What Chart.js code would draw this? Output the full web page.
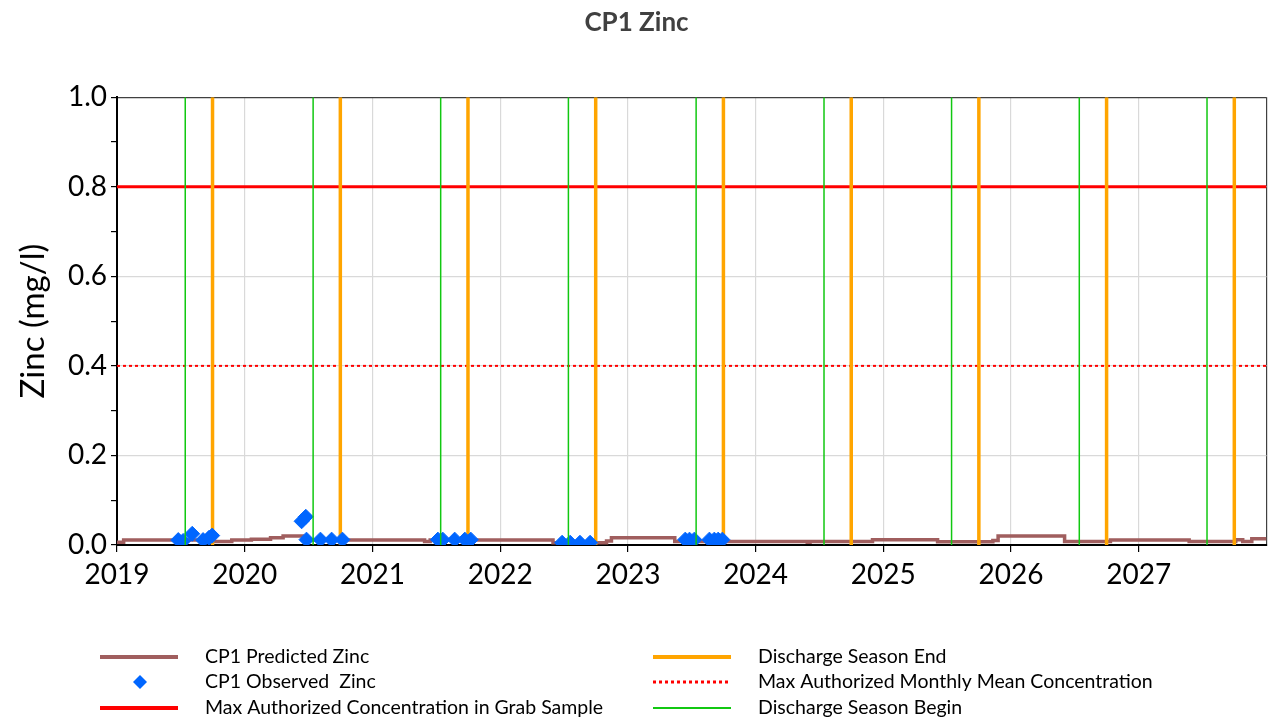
<!DOCTYPE html>
<html>
<head>
<meta charset="utf-8">
<script src="https://cdn.jsdelivr.net/npm/chart.js@4"></script>
<style>
  body { margin: 0; background: #fff; }
  #wrap { width: 1275px; height: 721px; }
</style>
</head>
<body>
<div id="wrap"><canvas id="zincChart" width="1275" height="721"></canvas></div>
<script>
// Predicted zinc (step series, value holds until next date)
const predictedDates = [
  "2019-01-01", "2019-01-20", "2019-10-01", "2019-11-25", "2020-01-20", "2020-03-15",
  "2020-04-20", "2020-06-15", "2021-05-30", "2021-06-15", "2022-06-01", "2022-11-01",
  "2022-11-15", "2023-05-15", "2024-05-28", "2024-06-05", "2024-12-01", "2025-06-05",
  "2025-11-10", "2025-11-25", "2026-06-03", "2026-10-12", "2027-05-25", "2027-10-05",
  "2027-10-25", "2027-11-20", "2028-01-01"
];
const predictedValues = [
  0.006, 0.011, 0.008, 0.011, 0.013, 0.016,
  0.020, 0.011, 0.008, 0.011, 0.005, 0.009,
  0.016, 0.008, 0.006, 0.008, 0.012, 0.007,
  0.010, 0.020, 0.008, 0.011, 0.008, 0.012,
  0.008, 0.014, 0.014
];

// Observed zinc samples
const observedDates = [
  "2019-06-25", "2019-07-09", "2019-08-04", "2019-09-04", "2019-09-21", "2019-09-30",
  "2020-06-12", "2020-06-24", "2020-06-26", "2020-08-05", "2020-09-06", "2020-10-07",
  "2021-07-07", "2021-07-21", "2021-08-24", "2021-09-22", "2021-10-09",
  "2022-06-27", "2022-07-20", "2022-08-17", "2022-09-15",
  "2023-06-14", "2023-06-26", "2023-07-10", "2023-08-22", "2023-09-05", "2023-09-16", "2023-09-28"
];
const observedValues = [
  0.011, 0.009, 0.025, 0.011, 0.016, 0.021,
  0.053, 0.063, 0.012, 0.012, 0.012, 0.012,
  0.012, 0.012, 0.012, 0.012, 0.012,
  0.005, 0.005, 0.005, 0.005,
  0.012, 0.012, 0.012, 0.012, 0.012, 0.012, 0.012
];

const seasonBegin = ["2019-07-15", "2020-07-15", "2021-07-15", "2022-07-15", "2023-07-15",
  "2024-07-15", "2025-07-15", "2026-07-15", "2027-07-15"];
const seasonEnd = ["2019-10-01", "2020-10-01", "2021-10-01", "2022-10-01", "2023-10-01",
  "2024-10-01", "2025-10-01", "2026-10-01", "2027-10-01"];

const grabLimit = 0.8;
const monthlyMeanLimit = 0.4;
const yearTicks = [2019, 2020, 2021, 2022, 2023, 2024, 2025, 2026, 2027];

const FONT = "Lato, 'Open Sans', sans-serif";

// date string -> decimal year
function toYear(s) {
  const d = new Date(s + "T00:00:00Z");
  const y = d.getUTCFullYear();
  const start = Date.UTC(y, 0, 1);
  const end = Date.UTC(y + 1, 0, 1);
  return y + (d.getTime() - start) / (end - start);
}

// vertical lines from 0 to 1, separated by gaps
function verticalLines(dates) {
  const pts = [];
  dates.forEach((s) => {
    const x = toYear(s);
    pts.push({ x: x, y: 0 }, { x: x, y: 1 }, { x: x, y: null });
  });
  return pts;
}

const xMin = 2019, xMax = 2028;

const legendPlugin = {
  id: "twoColLegend",
  afterDraw(chart) {
    const c = chart.ctx;
    const ds = chart.data.datasets;
    const items = [
      { i: 0, x: 100, y: 657 }, { i: 1, x: 100, y: 682 }, { i: 2, x: 100, y: 708 },
      { i: 3, x: 653, y: 657 }, { i: 4, x: 653, y: 682 }, { i: 5, x: 653, y: 708 }
    ];
    c.save();
    c.font = "19.5px " + FONT;
    c.textBaseline = "middle";
    items.forEach((it) => {
      const d = ds[it.i];
      if (d.showLine === false) {
        const cx = it.x + 40, cy = it.y, r = 7;
        c.beginPath();
        c.moveTo(cx, cy - r); c.lineTo(cx + r, cy); c.lineTo(cx, cy + r); c.lineTo(cx - r, cy);
        c.closePath();
        c.fillStyle = d.backgroundColor;
        c.fill();
      } else {
        c.beginPath();
        c.strokeStyle = d.borderColor;
        c.lineWidth = d.legendWidth || d.borderWidth;
        c.setLineDash(d.borderDash || []);
        c.moveTo(it.x, it.y);
        c.lineTo(it.x + 78, it.y);
        c.stroke();
        c.setLineDash([]);
      }
      c.fillStyle = "#000";
      c.fillText(d.label, it.x + 105, it.y);
    });
    c.restore();
  }
};

const ctx = document.getElementById("zincChart");

new Chart(ctx, {
  type: "line",
  data: {
    datasets: [
      {
        label: "CP1 Predicted Zinc",
        data: predictedDates.map((d, i) => ({ x: toYear(d), y: predictedValues[i] })),
        borderColor: "#A05E5E",
        borderWidth: 3.5,
        legendWidth: 4,
        stepped: true,
        pointRadius: 0,
        order: 3
      },
      {
        label: "CP1 Observed  Zinc",
        data: observedDates.map((d, i) => ({ x: toYear(d), y: observedValues[i] })),
        showLine: false,
        pointStyle: "rectRot",
        pointRadius: 7.5,
        backgroundColor: "#0066FF",
        borderColor: "#0066FF",
        borderWidth: 1,
        order: 1
      },
      {
        label: "Max Authorized Concentration in Grab Sample",
        data: [{ x: xMin, y: grabLimit }, { x: xMax, y: grabLimit }],
        borderColor: "#FF0000",
        borderWidth: 3,
        legendWidth: 4,
        pointRadius: 0,
        order: 4
      },
      {
        label: "Discharge Season End",
        data: verticalLines(seasonEnd),
        borderColor: "#FFA500",
        borderWidth: 3.5,
        legendWidth: 4,
        pointRadius: 0,
        spanGaps: false,
        order: 2
      },
      {
        label: "Max Authorized Monthly Mean Concentration",
        data: [{ x: xMin, y: monthlyMeanLimit }, { x: xMax, y: monthlyMeanLimit }],
        borderColor: "#FF0000",
        borderWidth: 2,
        legendWidth: 3,
        borderDash: [3, 3],
        pointRadius: 0,
        order: 4
      },
      {
        label: "Discharge Season Begin",
        data: verticalLines(seasonBegin),
        borderColor: "#11C811",
        borderWidth: 1.5,
        legendWidth: 2,
        pointRadius: 0,
        spanGaps: false,
        order: 0
      }
    ]
  },
  options: {
    responsive: false,
    animation: false,
    layout: { padding: { left: 0, right: 2, top: 0, bottom: 120 } },
    plugins: {
      legend: { display: false },
      tooltip: { enabled: false },
      title: {
        display: true,
        text: "CP1 Zinc",
        color: "#404040",
        font: { family: FONT, size: 26, weight: "bold", lineHeight: 1.2 },
        padding: { top: 7, bottom: 59 }
      }
    },
    scales: {
      x: {
        type: "linear",
        min: xMin,
        max: xMax,
        afterFit: (s) => { s.height = 56; },
        afterBuildTicks: (s) => { s.ticks = yearTicks.concat([xMax]).map((v) => ({ value: v })); },
        ticks: {
          stepSize: 1,
          color: "#000",
          font: { family: FONT, size: 28 },
          padding: 6,
          maxRotation: 0,
          autoSkip: false,
          callback: (v) => (v === xMax ? "" : String(v))
        },
        grid: {
          color: (c) => {
            const v = c.tick ? c.tick.value : null;
            if (v === xMax) return "#404040";
            return yearTicks.includes(v) ? "#D9D9D9" : "rgba(0,0,0,0)";
          },
          tickColor: (c) => (c.tick && yearTicks.includes(c.tick.value) ? "#000" : "rgba(0,0,0,0)"),
          tickLength: 7,
          lineWidth: 1.2
        },
        border: { color: "#000", width: 2 }
      },
      y: {
        min: 0,
        max: 1,
        afterFit: (s) => { s.width = 117; },
        afterBuildTicks: (s) => {
          const t = [];
          for (let k = 0; k <= 10; k++) t.push({ value: k / 10 });
          s.ticks = t;
        },
        title: {
          display: true,
          text: "Zinc (mg/l)",
          color: "#000",
          font: { family: FONT, size: 33 },
          padding: { top: 14, bottom: 0 }
        },
        ticks: {
          color: "#000",
          font: { family: FONT, size: 28 },
          padding: 4,
          autoSkip: false,
          callback: (v) => (Math.round(v * 10) % 2 === 0 ? v.toFixed(1) : "")
        },
        grid: {
          color: (c) => {
            const k = Math.round(c.tick.value * 10);
            if (k === 10) return "#404040";
            return k % 2 === 0 ? "#D9D9D9" : "rgba(0,0,0,0)";
          },
          tickColor: "#000",
          tickLength: 6,
          lineWidth: 1.2
        },
        border: { color: "#000", width: 2 }
      }
    }
  },
  plugins: [legendPlugin]
});
</script>
</body>
</html>
